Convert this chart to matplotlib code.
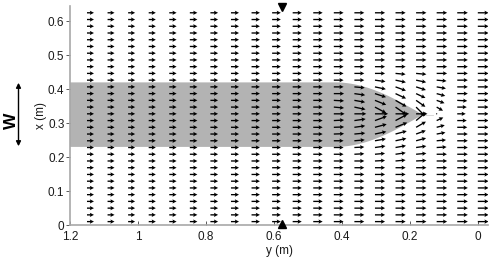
import numpy as np
import matplotlib
matplotlib.use("Agg")
import matplotlib.pyplot as plt
from matplotlib.patches import Polygon, FancyArrowPatch

plt.rcParams['font.family'] = ['Liberation Sans', 'DejaVu Sans']

# ---------------- data ----------------
# grid positions (m)
grid_y = np.linspace(1.15, 0.0, 20)      # horizontal axis "y (m)"
grid_x = np.linspace(0.01, 0.625, 32)    # vertical axis "x (m)"

# relative flow speed per column (left -> right on screen)
col_speed = [1.0, 1.0, 1.0, 1.02, 1.05, 1.08, 1.1, 1.15, 1.2, 1.25,
             1.3, 1.35, 1.4, 1.42, 1.45, 1.45, 1.48, 1.5, 1.52, 1.55]

# disturbed window around the tip: rows 8..24, columns 11..18
win_rows = list(range(8, 25))
win_cols = list(range(11, 19))
# flow angle (deg, + = towards larger x), rows listed from j=8 upwards
win_angle = [
    [0, 0, 0, 0, 0, 0, 0, 0],          # 8
    [0, 0, 0, 3, 5, 3, 0, 0],          # 9
    [0, 0, 3, 5, 8, 5, 0, 0],          # 10
    [0, 0, 3, 8, 10, 8, 3, 0],         # 11
    [0, 0, 5, 10, 12, 15, 5, 0],       # 12
    [0, 2, 5, 12, 15, 20, 10, 0],      # 13
    [0, 2, 8, 15, 22, 30, 15, 0],      # 14
    [0, 3, 8, 20, 28, 40, 25, 0],      # 15
    [0, 0, 0, 0, 0, 0, 0, 0],          # 16 (centre line)
    [0, -5, -12, -28, -35, -45, -30, 0],   # 17
    [0, -3, -10, -22, -30, -35, -20, -3],  # 18
    [0, 0, -8, -18, -25, -25, -15, 0],     # 19
    [0, 0, -5, -12, -20, -18, -10, 0],     # 20
    [0, 0, 0, -8, -12, -12, -5, 0],        # 21
    [0, 0, 0, 0, -5, -5, 0, 0],            # 22
    [0, 0, 0, 0, 0, 0, 0, 0],              # 23
    [0, 0, 0, 0, 0, 0, 0, 0],              # 24
]
# speed factor relative to column speed
win_gain = [
    [1, 1, 1, 1, 1, 1, 1, 1],              # 8
    [1, 1, 1, 1, 1, 1, 1, 1],              # 9
    [1, 1, 1, 1, 1.02, 1, 0.98, 1],        # 10
    [1, 1, 1, 1.05, 1.05, 1, 0.95, 1],     # 11
    [1, 1, 1.05, 1.1, 1.1, 1, 0.9, 1],     # 12
    [1, 1.05, 1.1, 1.15, 1.15, 1.0, 0.85, 1],  # 13
    [1, 1.05, 1.1, 1.2, 1.25, 1.1, 0.8, 0.95], # 14
    [1, 1.05, 1.15, 1.25, 1.3, 1.2, 0.7, 0.9], # 15
    [1, 1.1, 1.2, 1.3, 1.35, 1.1, 0.1, 0.8],   # 16
    [1, 1.05, 1.15, 1.25, 1.3, 1.2, 0.7, 0.9], # 17
    [1, 1.05, 1.1, 1.2, 1.25, 1.1, 0.8, 0.95], # 18
    [1, 1.05, 1.1, 1.15, 1.15, 1.0, 0.85, 1],  # 19
    [1, 1, 1.05, 1.1, 1.1, 1, 0.9, 1],     # 20
    [1, 1, 1, 1.05, 1.05, 1, 0.95, 1],     # 21
    [1, 1, 1, 1, 1, 1, 1, 1],              # 22
    [1, 1, 1, 1, 1, 1, 1, 1],              # 23
    [1, 1, 1, 1, 1, 1, 1, 1],              # 24
]

# gray body (m)
body_x_low, body_x_high = 0.23, 0.42
body_taper_start = 0.42   # y where the nose starts
body_tip = 0.162          # y of the nose tip
body_y_end = 1.2

# marker position (m)
marker_y = 0.576

x_ticks = [1.2, 1.0, 0.8, 0.6, 0.4, 0.2, 0.0]
x_tick_labels = ['1.2', '1', '0.8', '0.6', '0.4', '0.2', '0']
y_ticks = [0, 0.1, 0.2, 0.3, 0.4, 0.5, 0.6]
y_tick_labels = ['0', '0.1', '0.2', '0.3', '0.4', '0.5', '0.6']

# ---------------- figure ----------------
fig = plt.figure(figsize=(4.91, 2.60), dpi=100)
ax = fig.add_axes([70 / 491, 35 / 260, 418 / 491, 219 / 260])
ax.set_xlim(1.2, -0.03)
ax.set_ylim(0, 0.645)

# body
centre = 0.5 * (body_x_low + body_x_high)
half = 0.5 * (body_x_high - body_x_low)
ys = np.linspace(body_taper_start, body_tip, 60)
t = (body_taper_start - ys) / (body_taper_start - body_tip)
hw = half * np.cos(np.pi / 2 * t)
upper = list(zip(ys, centre + hw))
lower = list(zip(ys[::-1], centre - hw[::-1]))
poly = [(body_y_end, body_x_high)] + upper + lower + [(body_y_end, body_x_low)]
ax.add_patch(Polygon(poly, closed=True, facecolor='#b3b3b3', edgecolor='none', zorder=1))
ax.plot([body_tip, body_tip - 0.03], [centre, centre], color='#d0d0d0', lw=0.6, zorder=1)

# vector field
X, Y = np.meshgrid(grid_y, grid_x)
speed = np.tile(np.array(col_speed), (len(grid_x), 1))
ang = np.zeros_like(speed)
for a, j in enumerate(win_rows):
    for b, k in enumerate(win_cols):
        ang[j, k] = win_angle[a][b]
        speed[j, k] *= win_gain[a][b]
th = np.deg2rad(ang)
U = -speed * np.cos(th)   # flow towards y = 0
V = speed * np.sin(th)
ax.quiver(X, Y, U, V, angles='xy', scale_units='xy', scale=1 / 0.0205,
          pivot='tail', color='black', width=0.0032, headwidth=3.2,
          headlength=3.1, headaxislength=2.7, zorder=3)

# markers
ax.plot([marker_y], [0.643], marker='v', color='black', ms=6, clip_on=False, zorder=5)
ax.plot([marker_y], [0.004], marker='^', color='black', ms=6, clip_on=False, zorder=5)

# axes styling
for s in ['top', 'right']:
    ax.spines[s].set_visible(False)
for s in ['left', 'bottom']:
    ax.spines[s].set_color('#a8a8a8')
    ax.spines[s].set_linewidth(1.2)
ax.set_xticks(x_ticks)
ax.set_xticklabels(x_tick_labels)
ax.set_yticks(y_ticks)
ax.set_yticklabels(y_tick_labels)
ax.tick_params(axis='x', direction='in', length=3, width=0.6, color='#404040',
               labelsize=8.5, labelcolor='#1a1a1a', pad=4)
ax.tick_params(axis='y', direction='out', length=3, width=0.6, color='#404040',
               labelsize=8.5, labelcolor='#1a1a1a', pad=1)
ax.set_xlabel('y (m)', fontsize=8.5, color='#1a1a1a', labelpad=1.5)
ax.set_ylabel('x (m)', fontsize=8.5, color='#1a1a1a', labelpad=1)

# W with double arrow
fig.text(11.5 / 491, 1 - 121 / 260, 'W', rotation=90, fontsize=12.5, fontweight='bold',
         ha='center', va='center', color='black')
fig.patches.append(FancyArrowPatch((18.5 / 491, 1 - 80 / 260), (18.5 / 491, 1 - 149 / 260),
                                   transform=fig.transFigure, arrowstyle='<|-|>',
                                   mutation_scale=7, lw=1.0, color='black'))

fig.savefig('out.png', dpi=100)
